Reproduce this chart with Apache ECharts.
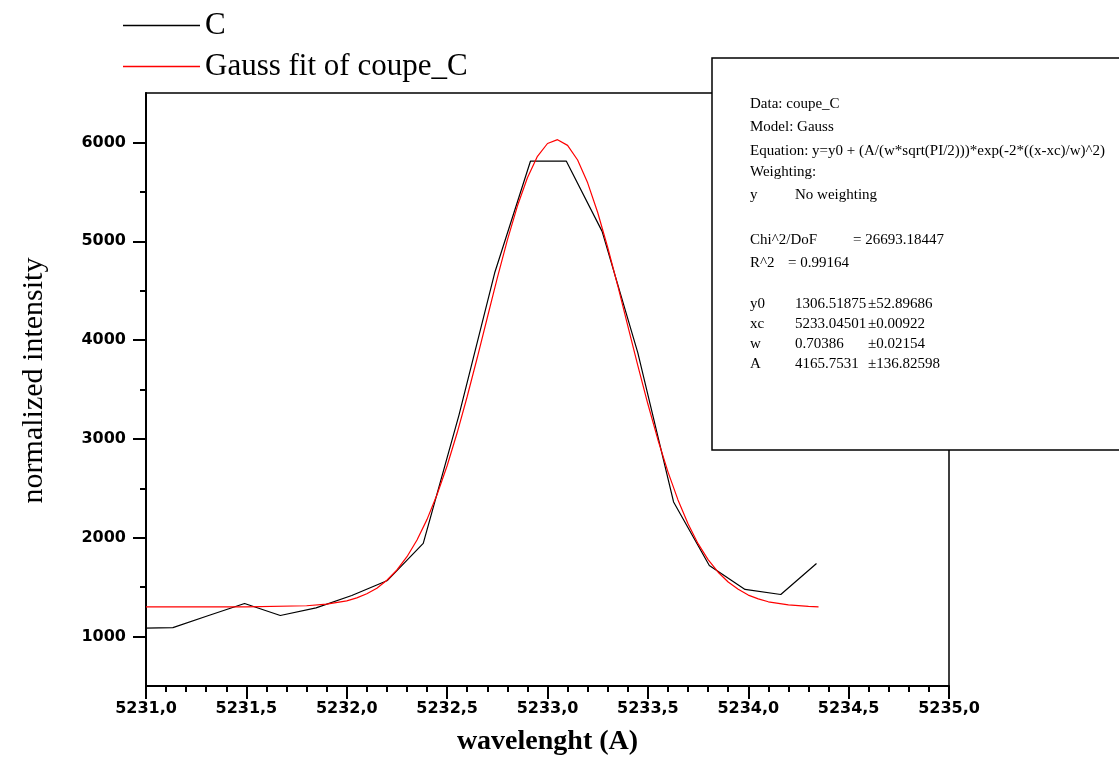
<!DOCTYPE html>
<html>
<head>
<meta charset="utf-8">
<script src="https://cdn.jsdelivr.net/npm/echarts@6/dist/echarts.min.js"></script>
<style>
html,body{margin:0;padding:0;background:#fff;}
#chart{width:1119px;height:780px;}
</style>
</head>
<body>
<div id="chart"></div>
<script>
// Measured data "C"
var cWavelength = [5230.956, 5231.134, 5231.312, 5231.491, 5231.669, 5231.847, 5232.025, 5232.203, 5232.381, 5232.559, 5232.737, 5232.915, 5233.094, 5233.272, 5233.450, 5233.628, 5233.806, 5233.984, 5234.162, 5234.340];
var cIntensity  = [1083, 1091, 1213, 1335, 1213, 1290, 1416, 1568, 1943, 3241, 4681, 5810, 5810, 5100, 3870, 2362, 1720, 1477, 1426, 1740];

// Gauss fit curve
var fitWavelength = [5231.0, 5231.5, 5231.8, 5231.9, 5232.0, 5232.05, 5232.1, 5232.15, 5232.2, 5232.25, 5232.3, 5232.35, 5232.4, 5232.45, 5232.5, 5232.55, 5232.6, 5232.65, 5232.7, 5232.75, 5232.8, 5232.85, 5232.9, 5232.95, 5233.0, 5233.05, 5233.1, 5233.15, 5233.2, 5233.25, 5233.3, 5233.35, 5233.4, 5233.45, 5233.5, 5233.55, 5233.6, 5233.65, 5233.7, 5233.75, 5233.8, 5233.85, 5233.9, 5233.95, 5234.0, 5234.05, 5234.1, 5234.2, 5234.3, 5234.35];
var fitIntensity  = [1300, 1301, 1312, 1328, 1362, 1392, 1433, 1490, 1570, 1674, 1808, 1977, 2186, 2437, 2729, 3062, 3429, 3821, 4226, 4629, 5012, 5356, 5643, 5859, 5989, 6028, 5970, 5822, 5591, 5291, 4937, 4550, 4144, 3741, 3353, 2992, 2667, 2383, 2141, 1940, 1779, 1651, 1552, 1478, 1420, 1382, 1352, 1320, 1305, 1300];

// Axis ticks
var yMajorTicks = [1000, 2000, 3000, 4000, 5000, 6000];
var yMinorTicks = [1500, 2500, 3500, 4500, 5500];

var seriesNames = ['C', 'Gauss fit of coupe_C'];

var boxLines = [
  ['Data: coupe_C'],
  ['Model: Gauss'],
  ['Equation: y=y0 + (A/(w*sqrt(PI/2)))*exp(-2*((x-xc)/w)^2)'],
  ['Weighting:'],
  ['y', 'No weighting'],
  null,
  ['Chi^2/DoF', '', '= 26693.18447'],
  ['R^2', '= 0.99164'],
  null,
  ['y0', '1306.51875', '\u00b152.89686'],
  ['xc', '5233.04501', '\u00b10.00922'],
  ['w', '0.70386', '\u00b10.02154'],
  ['A', '4165.7531', '\u00b1136.82598']
];
var boxRowY = [104, 127.5, 151, 172, 195.5, 0, 240, 263.5, 0, 304, 324, 344, 364];

var chart = echarts.init(document.getElementById('chart'), null, {renderer: 'canvas'});

function zip(xs, ys) { return xs.map(function (x, i) { return [x, ys[i]]; }); }

var graphics = [{
  type: 'rect', z: 100,
  shape: {x: 712, y: 58, width: 420, height: 392},
  style: {fill: '#fff', stroke: '#000', lineWidth: 1.5}
}];
boxLines.forEach(function (row, i) {
  if (!row) return;
  var y = boxRowY[i];
  var cols;
  if (row.length === 1) cols = [750];
  else if (row[0] === 'R^2') cols = [750, 788];
  else if (row[0] === 'Chi^2/DoF') cols = [750, 0, 853];
  else cols = [750, 795, 868];
  row.forEach(function (t, j) {
    if (!t) return;
    graphics.push({
      type: 'text', z: 101, x: cols[j], y: y,
      style: {text: t, font: '15px "Liberation Serif"', fill: '#000',
              textAlign: 'left', textVerticalAlign: 'middle', verticalAlign: 'middle'}
    });
  });
});

var tickFont = {fontFamily: 'DejaVu Sans', fontWeight: 'bold', fontSize: 16, color: '#000'};

chart.setOption({
  animation: false,
  backgroundColor: '#fff',
  legend: {
    data: seriesNames,
    orient: 'vertical',
    left: 118, top: 5,
    itemWidth: 77, itemHeight: 1.5, itemGap: 10,
    icon: 'rect',
    textStyle: {fontFamily: 'Liberation Serif', fontSize: 31, color: '#000'}
  },
  grid: {left: 146, right: 170, top: 93, bottom: 94, show: true, borderColor: '#000', borderWidth: 1.5, backgroundColor: 'transparent'},
  xAxis: {
    type: 'value', min: 5231, max: 5235, interval: 0.5,
    axisLine: {onZero: false, lineStyle: {color: '#000', width: 2}},
    axisTick: {length: 13, lineStyle: {color: '#000', width: 2}},
    minorTick: {show: true, splitNumber: 5, length: 6, lineStyle: {color: '#000', width: 2}},
    splitLine: {show: false}, minorSplitLine: {show: false},
    axisLabel: Object.assign({margin: 15, formatter: function (v) { return v.toFixed(1).replace('.', ','); }}, tickFont),
    name: 'wavelenght (A)', nameLocation: 'middle', nameGap: 42,
    nameTextStyle: {fontFamily: 'Liberation Serif', fontWeight: 'bold', fontSize: 28, color: '#000'}
  },
  yAxis: [{
    type: 'value', min: 500, max: 6500, interval: 500, position: 'left',
    axisLine: {show: true, onZero: false, lineStyle: {color: '#000', width: 2}},
    axisTick: {show: true, length: 13, customValues: yMajorTicks, lineStyle: {color: '#000', width: 2}},
    axisLabel: Object.assign({margin: 20, customValues: yMajorTicks, formatter: function (v) { return String(v); }}, tickFont),
    splitLine: {show: false},
    name: 'normalized intensity', nameLocation: 'middle', nameGap: 97, nameRotate: 90,
    nameTextStyle: {fontFamily: 'Liberation Serif', fontSize: 30, color: '#000', padding: [0, 0, 0, 18]}
  }, {
    type: 'value', min: 500, max: 6500, interval: 500, position: 'left', offset: 0,
    axisLine: {show: false},
    axisTick: {show: true, length: 6, customValues: yMinorTicks, lineStyle: {color: '#000', width: 2}},
    axisLabel: {show: false},
    splitLine: {show: false}
  }],
  series: [{
    name: seriesNames[0], type: 'line', data: zip(cWavelength, cIntensity),
    symbol: 'none', lineStyle: {color: '#000', width: 1.2}, itemStyle: {color: '#000'}
  }, {
    name: seriesNames[1], type: 'line', data: zip(fitWavelength, fitIntensity),
    symbol: 'none', lineStyle: {color: '#ff0000', width: 1.2}, itemStyle: {color: '#ff0000'}
  }],
  graphic: graphics
});
</script>
</body>
</html>
